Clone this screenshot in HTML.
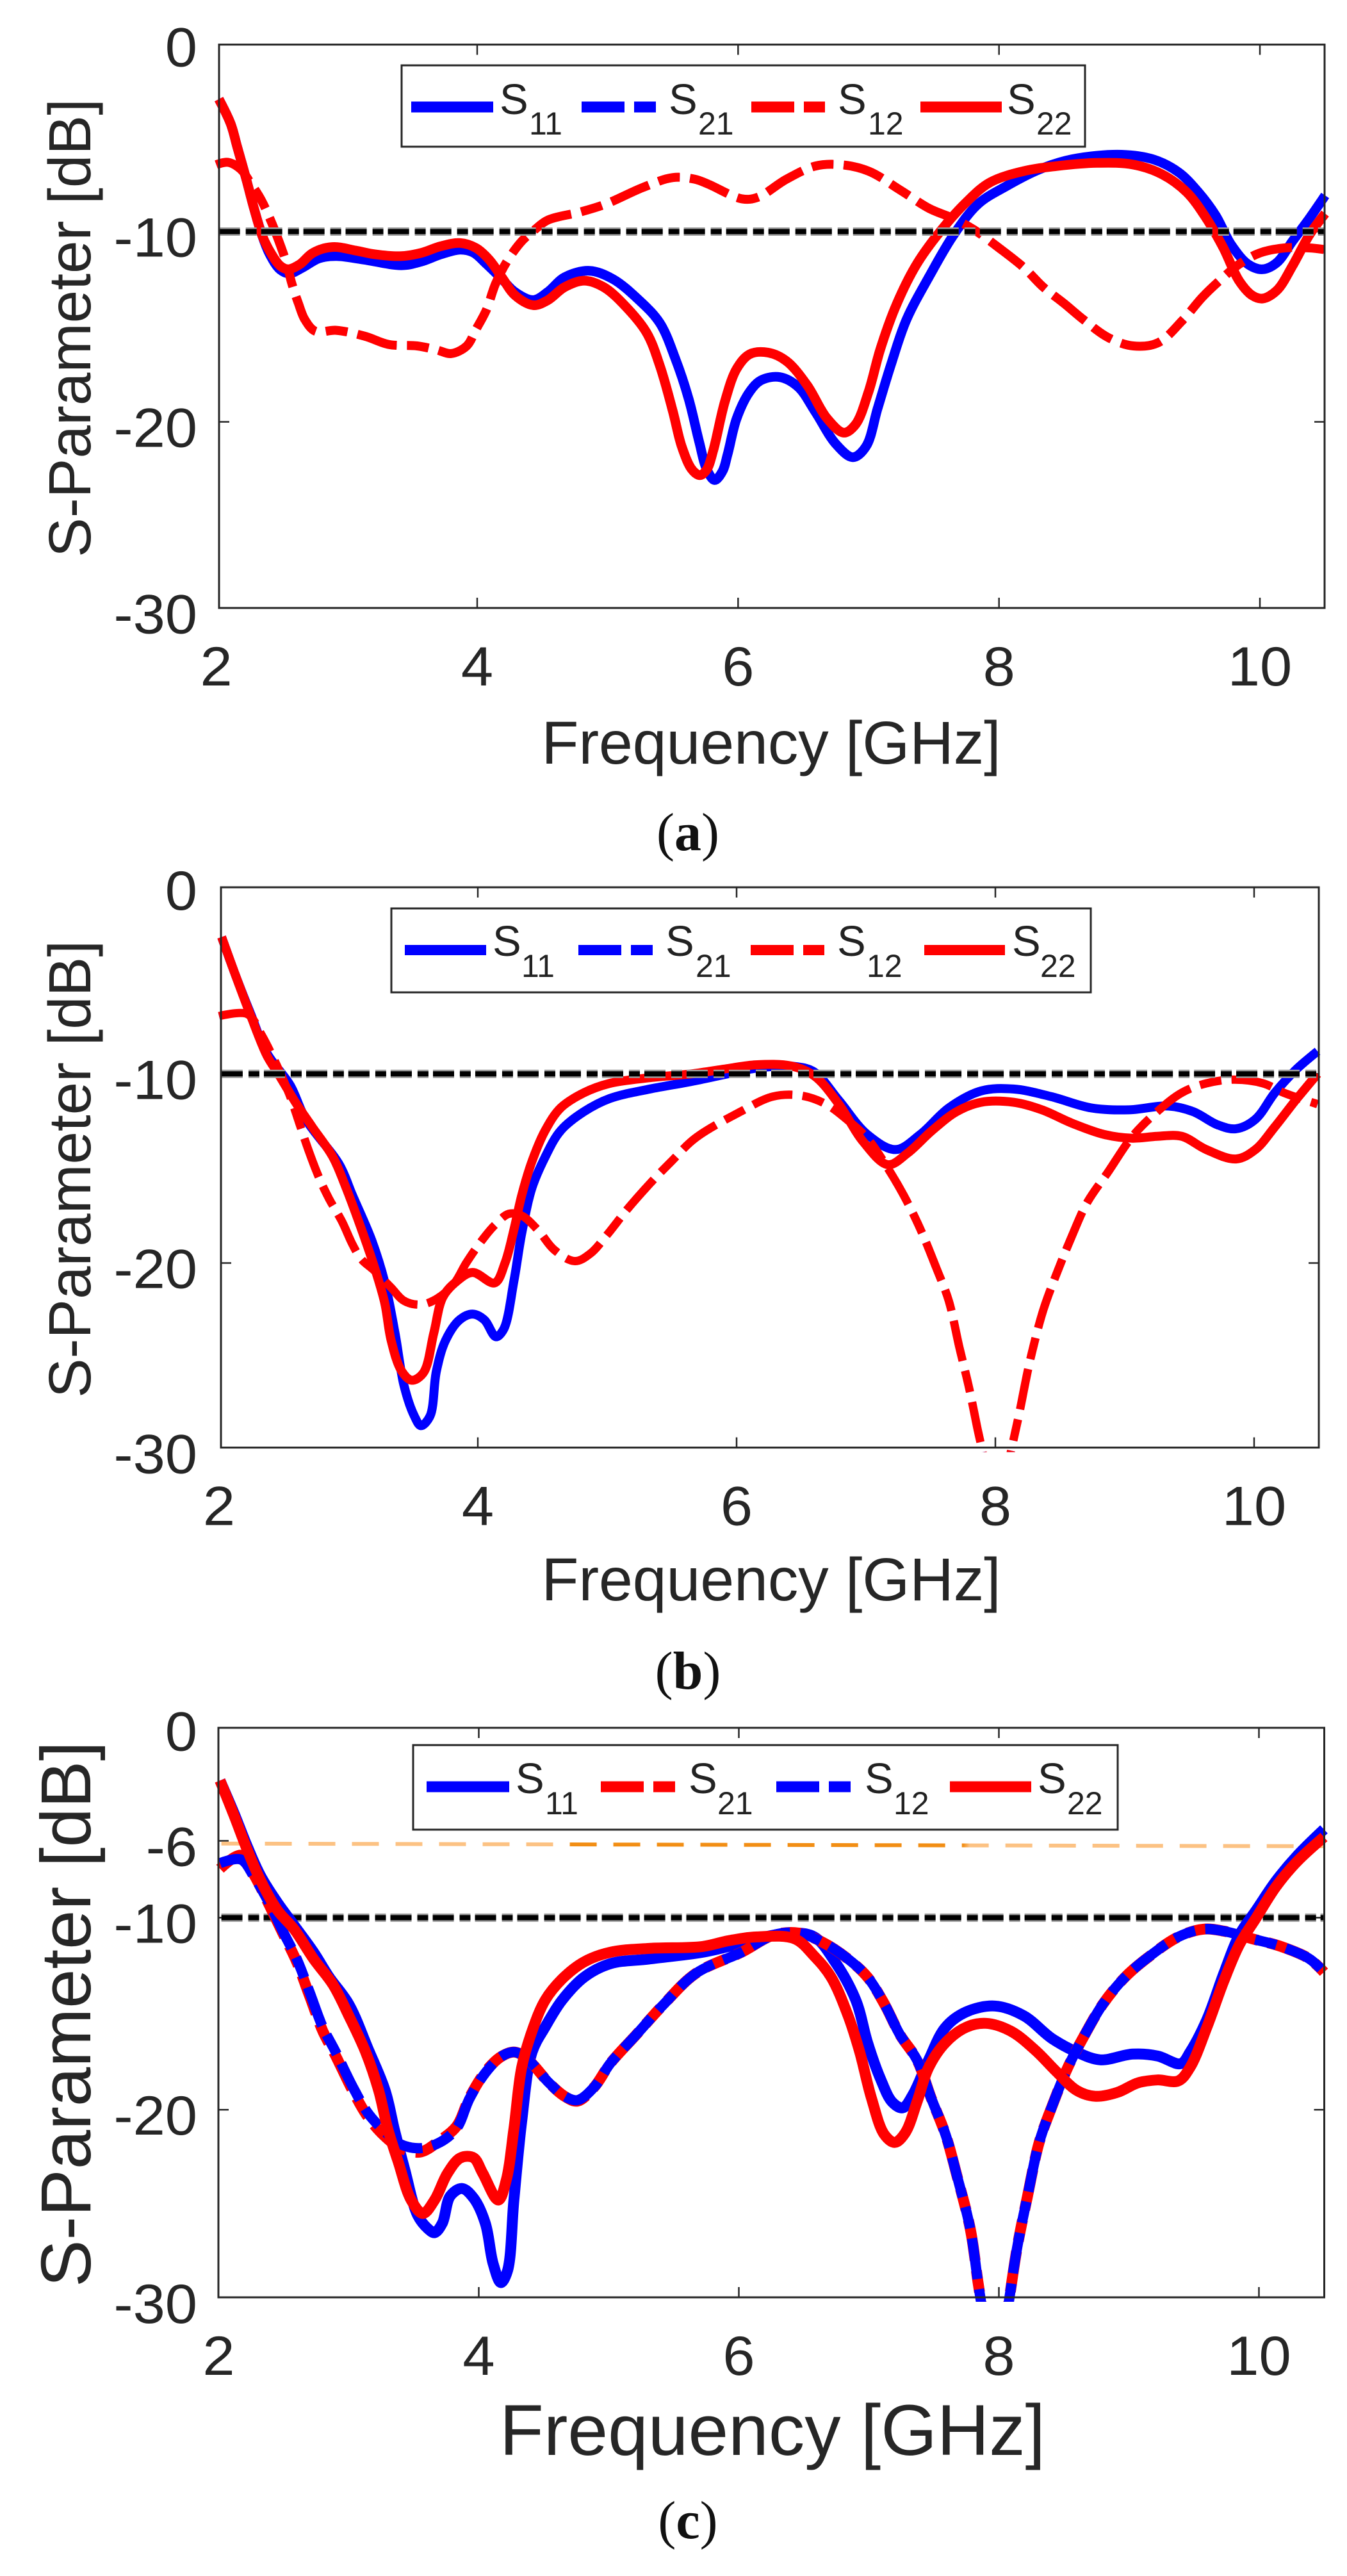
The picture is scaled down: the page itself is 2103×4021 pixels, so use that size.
<!DOCTYPE html>
<html lang="en">
<head>
<meta charset="utf-8">
<title>S-Parameter charts</title>
<style>
html,body{margin:0;padding:0;background:#fff;}
svg{display:block;}
text{font-family:"Liberation Sans",sans-serif;fill:#262626;}
.cap{font-family:"Liberation Serif",serif;font-size:84px;fill:#111;}
.leg{font-size:67px;fill:#222;}
.sub{font-size:50px;fill:#222;}
</style>
</head>
<body>
<svg id="figure" xmlns="http://www.w3.org/2000/svg" width="2103" height="4021" viewBox="0 0 2103 4021">
<rect width="2103" height="4021" fill="#fff"/>
<g id="plots"></g>

<g>
<text x="1204" y="1192" font-size="95" text-anchor="middle" textLength="717" lengthAdjust="spacingAndGlyphs">Frequency [GHz]</text>
<text transform="translate(141,512) rotate(-90)" font-size="93" text-anchor="middle" textLength="716" lengthAdjust="spacingAndGlyphs">S-Parameter [dB]</text>
<text class="cap" x="1074" y="1327" text-anchor="middle">(<tspan font-weight="bold">a</tspan>)</text>
</g>
<g>
<rect x="627" y="102" width="1067" height="127" fill="#fff" stroke="#262626" stroke-width="3"/>
<line x1="642" x2="770" y1="167" y2="167" stroke="#0000ff" stroke-width="17"/>
<text class="leg" x="780" y="178">S</text><text class="sub" x="826" y="210">11</text>
<line x1="908" x2="1024" y1="167" y2="167" stroke="#0000ff" stroke-width="17" stroke-dasharray="67 15 34 100"/>
<text class="leg" x="1044" y="178">S</text><text class="sub" x="1090" y="210">21</text>
<line x1="1173" x2="1288" y1="167" y2="167" stroke="#ff0000" stroke-width="17" stroke-dasharray="67 15 34 100"/>
<text class="leg" x="1308" y="178">S</text><text class="sub" x="1355" y="210">12</text>
<line x1="1437" x2="1564" y1="167" y2="167" stroke="#ff0000" stroke-width="17"/>
<text class="leg" x="1572" y="178">S</text><text class="sub" x="1618" y="210">22</text>
</g>

<g>
<text x="1204" y="2498" font-size="95" text-anchor="middle" textLength="717" lengthAdjust="spacingAndGlyphs">Frequency [GHz]</text>
<text transform="translate(141,1825) rotate(-90)" font-size="93" text-anchor="middle" textLength="714" lengthAdjust="spacingAndGlyphs">S-Parameter [dB]</text>
<text class="cap" x="1074" y="2636" text-anchor="middle">(<tspan font-weight="bold">b</tspan>)</text>
</g>
<g>
<rect x="611" y="1418" width="1092" height="131" fill="#fff" stroke="#262626" stroke-width="3"/>
<line x1="632" x2="759" y1="1483" y2="1483" stroke="#0000ff" stroke-width="16"/>
<text class="leg" x="769" y="1492">S</text><text class="sub" x="814" y="1525">11</text>
<line x1="903" x2="1019" y1="1483" y2="1483" stroke="#0000ff" stroke-width="16" stroke-dasharray="67 15 34 100"/>
<text class="leg" x="1039" y="1492">S</text><text class="sub" x="1086" y="1525">21</text>
<line x1="1172" x2="1287" y1="1483" y2="1483" stroke="#ff0000" stroke-width="16" stroke-dasharray="67 15 34 100"/>
<text class="leg" x="1307" y="1492">S</text><text class="sub" x="1353" y="1525">12</text>
<line x1="1443" x2="1569" y1="1483" y2="1483" stroke="#ff0000" stroke-width="16"/>
<text class="leg" x="1580" y="1492">S</text><text class="sub" x="1624" y="1525">22</text>
</g>

<g>
<text x="1206" y="3832" font-size="112" text-anchor="middle" textLength="852" lengthAdjust="spacingAndGlyphs">Frequency [GHz]</text>
<text transform="translate(141,3144) rotate(-90)" font-size="110" text-anchor="middle" textLength="852" lengthAdjust="spacingAndGlyphs">S-Parameter [dB]</text>
<text class="cap" x="1074" y="3962" text-anchor="middle">(<tspan font-weight="bold">c</tspan>)</text>
</g>
<g>
<rect x="645" y="2724" width="1100" height="132" fill="#fff" stroke="#262626" stroke-width="3"/>
<line x1="666" x2="795" y1="2789" y2="2789" stroke="#0000ff" stroke-width="17"/>
<text class="leg" x="805" y="2799">S</text><text class="sub" x="851" y="2832">11</text>
<line x1="938" x2="1054" y1="2789" y2="2789" stroke="#ff0000" stroke-width="17" stroke-dasharray="67 15 34 100"/>
<text class="leg" x="1075" y="2799">S</text><text class="sub" x="1120" y="2832">21</text>
<line x1="1212" x2="1328" y1="2789" y2="2789" stroke="#0000ff" stroke-width="17" stroke-dasharray="67 15 34 100"/>
<text class="leg" x="1350" y="2799">S</text><text class="sub" x="1395" y="2832">12</text>
<line x1="1483" x2="1610" y1="2789" y2="2789" stroke="#ff0000" stroke-width="17"/>
<text class="leg" x="1620" y="2799">S</text><text class="sub" x="1666" y="2832">22</text>
</g>
</svg>

<script>
/* ---------- shared axis data ---------- */
const xTicks = [2, 4, 6, 8, 10];
const xTickLabels = ['2', '4', '6', '8', '10'];
const yTicksAB = [0, -10, -20, -30];
const yTickLabelsAB = ['0', '-10', '-20', '-30'];
const yTicksC = [0, -6, -10, -20, -30];
const yTickLabelsC = ['0', '-6', '-10', '-20', '-30'];
const refFreq = [2.02, 10.5];
const refDb = [-10, -10];
const orangeFreq = [2.02, 10.5];
const orangeDb = [-6.14, -6.28];

/* ---------- panel (a) ---------- */
const aS11F = [2.02,2.11,2.16,2.23,2.29,2.35,2.41,2.49,2.56,2.66,2.79,2.92,3.12,3.42,3.57,3.72,3.87,3.97,4.07,4.19,4.29,4.43,4.54,4.67,4.86,5.04,5.24,5.4,5.52,5.62,5.7,5.76,5.82,5.88,5.92,5.99,6.09,6.18,6.32,6.46,6.59,6.75,6.88,6.98,7.07,7.17,7.29,7.47,7.65,7.84,8.06,8.31,8.56,8.94,9.19,9.38,9.53,9.66,9.78,9.91,10.02,10.13,10.25,10.38,10.5];
const aS11Db = [-3.04,-4.33,-5.53,-7.25,-8.8,-10.17,-11.2,-12,-12.2,-11.9,-11.4,-11.29,-11.46,-11.77,-11.58,-11.2,-10.95,-11.1,-11.7,-12.5,-13.18,-13.6,-13.18,-12.4,-12.06,-12.49,-13.6,-14.8,-16.7,-18.76,-21,-22.5,-23.06,-22.6,-21.7,-19.8,-18.4,-17.8,-17.65,-18.16,-19.45,-21.17,-21.86,-21.3,-19.28,-17.04,-14.64,-12.3,-10.2,-8.55,-7.6,-6.73,-6.2,-5.96,-6.22,-6.9,-7.94,-9.14,-10.69,-11.72,-11.98,-11.63,-10.5,-9.3,-8.1];
const aS22F = [2.02,2.11,2.16,2.23,2.29,2.35,2.41,2.49,2.55,2.64,2.74,2.89,3.07,3.22,3.42,3.57,3.72,3.87,3.99,4.09,4.19,4.29,4.43,4.54,4.67,4.82,4.97,5.14,5.3,5.4,5.5,5.57,5.65,5.71,5.76,5.81,5.9,5.99,6.09,6.23,6.37,6.53,6.68,6.81,6.9,7,7.09,7.21,7.37,7.56,7.75,7.93,8.19,8.44,8.75,9.03,9.25,9.44,9.59,9.72,9.84,9.94,10.02,10.13,10.25,10.38,10.5];
const aS22Db = [-3.04,-4.33,-5.53,-7.25,-8.8,-10.17,-11.03,-11.8,-11.98,-11.72,-11.12,-10.81,-11,-11.2,-11.29,-11.12,-10.77,-10.6,-10.86,-11.46,-12.41,-13.35,-13.87,-13.61,-12.92,-12.58,-12.92,-13.95,-15.33,-17.04,-19.45,-21.34,-22.54,-22.8,-22.5,-21.5,-18.9,-17.2,-16.44,-16.36,-16.8,-18.08,-19.8,-20.57,-20.14,-18.42,-16.19,-13.9,-11.7,-9.9,-8.45,-7.42,-6.82,-6.56,-6.39,-6.48,-6.99,-7.94,-9.31,-10.86,-12.58,-13.35,-13.52,-13.09,-11.8,-10.17,-9.05];
const aS12F = [2.0,2.09,2.19,2.26,2.34,2.41,2.48,2.54,2.58,2.63,2.68,2.76,2.92,3.14,3.32,3.54,3.69,3.8,3.92,3.99,4.07,4.14,4.23,4.34,4.44,4.54,4.79,4.99,5.27,5.5,5.67,5.77,6.03,6.15,6.37,6.59,6.78,7,7.25,7.47,7.65,7.81,8,8.19,8.34,8.5,8.65,8.84,9.03,9.22,9.41,9.56,9.72,9.84,10,10.19,10.38,10.5];
const aS12Db = [-6.48,-6.36,-6.74,-7.42,-8.28,-9.3,-10.5,-11.7,-12.75,-13.78,-14.64,-15.24,-15.19,-15.5,-15.93,-16.01,-16.22,-16.41,-16.01,-15.15,-14.12,-12.75,-11.55,-10.52,-9.91,-9.4,-8.97,-8.54,-7.68,-7.16,-7.25,-7.5,-8.28,-8.2,-7.25,-6.56,-6.48,-6.82,-7.85,-8.8,-9.31,-9.91,-10.86,-11.89,-12.92,-13.78,-14.64,-15.58,-16.01,-15.84,-14.64,-13.44,-12.4,-11.72,-11.12,-10.86,-10.86,-10.95];
const aS21F = [2.0,2.09,2.19,2.26,2.34,2.41,2.48,2.54,2.58,2.63,2.68,2.76,2.92,3.14,3.32,3.54,3.69,3.8,3.92,3.99,4.07,4.14,4.23,4.34,4.44,4.54,4.79,4.99,5.27,5.5,5.67,5.77,6.03,6.15,6.37,6.59,6.78,7,7.25,7.47,7.65,7.81,8,8.19,8.34,8.5,8.65,8.84,9.03,9.22,9.41,9.56,9.72,9.84,10,10.19,10.38,10.5];
const aS21Db = [-6.48,-6.36,-6.74,-7.42,-8.28,-9.3,-10.5,-11.7,-12.75,-13.78,-14.64,-15.24,-15.19,-15.5,-15.93,-16.01,-16.22,-16.41,-16.01,-15.15,-14.12,-12.75,-11.55,-10.52,-9.91,-9.4,-8.97,-8.54,-7.68,-7.16,-7.25,-7.5,-8.28,-8.2,-7.25,-6.56,-6.48,-6.82,-7.85,-8.8,-9.31,-9.91,-10.86,-11.89,-12.92,-13.78,-14.64,-15.58,-16.01,-15.84,-14.64,-13.44,-12.4,-11.72,-11.12,-10.86,-10.86,-10.95];

/* ---------- panel (b) ---------- */
const bS11F = [2.02,2.12,2.24,2.37,2.55,2.67,2.93,3.03,3.18,3.28,3.36,3.43,3.51,3.56,3.63,3.68,3.75,3.86,3.96,4.05,4.14,4.2,4.28,4.34,4.42,4.52,4.64,4.82,5.02,5.33,5.65,5.93,6.15,6.44,6.6,6.79,7.01,7.23,7.42,7.64,7.89,8.14,8.43,8.74,9.03,9.34,9.53,9.72,9.86,10.01,10.16,10.32,10.49];
const bS11Db = [-2.76,-4.65,-6.75,-8.9,-10.6,-12.4,-14.8,-16.4,-18.8,-21,-23.7,-26.5,-28.1,-28.6,-28.1,-25.7,-24.1,-23,-22.7,-23,-23.9,-23.5,-20.9,-18.4,-16,-14.4,-13,-12,-11.3,-10.8,-10.4,-10,-9.7,-9.6,-9.9,-11.4,-13.2,-14,-13.2,-11.8,-10.9,-10.8,-11.2,-11.8,-11.9,-11.7,-12,-12.7,-12.9,-12.4,-11,-9.8,-8.8];
const bS22F = [2.02,2.12,2.24,2.37,2.46,2.6,2.72,2.88,2.98,3.1,3.2,3.28,3.33,3.41,3.49,3.58,3.66,3.73,3.84,3.96,4.13,4.21,4.28,4.34,4.42,4.52,4.64,4.82,5.02,5.33,5.65,5.93,6.15,6.42,6.6,6.79,6.98,7.17,7.32,7.51,7.7,7.89,8.14,8.36,8.59,8.84,9.06,9.25,9.44,9.63,9.86,10.01,10.16,10.32,10.49];
const bS22Db = [-2.76,-4.65,-6.84,-9.03,-10.02,-11.6,-12.8,-14.4,-16,-18.2,-20.2,-22.1,-24.1,-25.7,-26.2,-25.8,-23.7,-21.8,-20.95,-20.5,-21.05,-20,-18.2,-16.4,-14.6,-13,-11.8,-11,-10.5,-10.2,-10,-9.72,-9.52,-9.58,-10.1,-11.6,-13.6,-14.8,-14.2,-13,-12,-11.5,-11.5,-11.9,-12.6,-13.2,-13.4,-13.3,-13.3,-14,-14.5,-14,-12.8,-11.4,-10];
const bS12F = [2.0,2.22,2.32,2.45,2.55,2.62,2.7,2.78,2.85,2.95,3.03,3.1,3.2,3.33,3.43,3.56,3.68,3.81,3.91,4.01,4.13,4.24,4.34,4.47,4.59,4.75,4.87,5,5.15,5.33,5.5,5.68,6.03,6.28,6.5,6.69,6.85,7.01,7.17,7.29,7.42,7.54,7.64,7.72,7.8,7.86,7.91,8.0,8.11,8.18,8.27,8.37,8.46,8.59,8.71,8.87,9.06,9.25,9.44,9.63,9.85,10.07,10.23,10.49];
const bS12Db = [-6.94,-6.84,-7.83,-9.6,-11.2,-12.6,-14.2,-15.6,-16.6,-17.8,-19,-19.8,-20.4,-21.3,-22,-22.2,-21.9,-21.15,-20,-19,-18,-17.4,-17.5,-18.3,-19.3,-19.9,-19.5,-18.5,-17.2,-15.8,-14.6,-13.4,-12,-11.2,-11.15,-11.6,-12.4,-13.4,-15,-16.4,-18.2,-20.2,-22,-24.4,-26.7,-28.7,-30.3,-34,-30.3,-28.1,-25.1,-22.5,-20.8,-18.6,-16.8,-15.2,-13.3,-12,-11,-10.5,-10.3,-10.5,-11,-11.6];
const bS21F = [2.0,2.22,2.32,2.45,2.55,2.62,2.7,2.78,2.85,2.95,3.03,3.1,3.2,3.33,3.43,3.56,3.68,3.81,3.91,4.01,4.13,4.24,4.34,4.47,4.59,4.75,4.87,5,5.15,5.33,5.5,5.68,6.03,6.28,6.5,6.69,6.85,7.01,7.17,7.29,7.42,7.54,7.64,7.72,7.8,7.86,7.91,8.0,8.11,8.18,8.27,8.37,8.46,8.59,8.71,8.87,9.06,9.25,9.44,9.63,9.85,10.07,10.23,10.49];
const bS21Db = [-6.94,-6.84,-7.83,-9.6,-11.2,-12.6,-14.2,-15.6,-16.6,-17.8,-19,-19.8,-20.4,-21.3,-22,-22.2,-21.9,-21.15,-20,-19,-18,-17.4,-17.5,-18.3,-19.3,-19.9,-19.5,-18.5,-17.2,-15.8,-14.6,-13.4,-12,-11.2,-11.15,-11.6,-12.4,-13.4,-15,-16.4,-18.2,-20.2,-22,-24.4,-26.7,-28.7,-30.3,-34,-30.3,-28.1,-25.1,-22.5,-20.8,-18.6,-16.8,-15.2,-13.3,-12,-11,-10.5,-10.3,-10.5,-11,-11.6];

/* ---------- panel (c) ---------- */
const cS11F = [2.01,2.12,2.22,2.32,2.45,2.58,2.73,2.85,3,3.15,3.28,3.35,3.43,3.53,3.61,3.66,3.72,3.78,3.87,3.96,4.05,4.11,4.17,4.22,4.27,4.33,4.41,4.51,4.64,4.81,5.01,5.31,5.72,5.92,6.14,6.4,6.58,6.74,6.9,6.99,7.09,7.18,7.26,7.34,7.46,7.59,7.75,7.97,8.19,8.41,8.6,8.78,9.03,9.22,9.4,9.47,9.6,9.73,9.85,9.98,10.13,10.29,10.5];
const cS11Db = [-2.86,-4.6,-6.3,-7.8,-9.2,-10.4,-11.8,-13.1,-14.5,-16.85,-19,-21,-23.1,-25.5,-26.2,-26.4,-25.9,-24.5,-24.1,-24.6,-25.9,-28,-29,-28.4,-24.7,-20.6,-17,-15.7,-14.3,-13.1,-12.4,-12.15,-11.8,-11.5,-11.1,-10.8,-11,-12.3,-14.3,-16.5,-18.4,-19.6,-19.9,-19.2,-17.4,-15.7,-14.9,-14.6,-15.1,-16.3,-17,-17.4,-17.1,-17.2,-17.6,-17,-15.3,-12.9,-10.9,-9.6,-8.1,-6.8,-5.4];
const cS22F = [2.01,2.12,2.22,2.32,2.45,2.58,2.73,2.88,3,3.13,3.23,3.3,3.38,3.48,3.57,3.66,3.76,3.86,3.96,4.03,4.15,4.21,4.27,4.33,4.41,4.51,4.64,4.81,5.01,5.31,5.72,5.92,6.14,6.43,6.58,6.71,6.84,6.93,7.02,7.12,7.2,7.28,7.37,7.46,7.59,7.75,7.9,8.09,8.28,8.44,8.6,8.74,8.91,9.07,9.22,9.38,9.47,9.6,9.73,9.85,9.98,10.13,10.29,10.5];
const cS22Db = [-2.86,-4.72,-6.48,-8.04,-9.6,-10.6,-12.15,-13.5,-15.1,-17,-19,-21,-22.7,-24.7,-25.4,-24.7,-23.3,-22.5,-22.5,-23.3,-24.7,-23.7,-21,-17.8,-15.9,-14.3,-13.2,-12.3,-11.8,-11.6,-11.5,-11.2,-11,-11.1,-12,-13.1,-15.1,-17,-19.4,-21.3,-21.7,-21.2,-19.6,-17.8,-16.5,-15.7,-15.5,-15.9,-16.9,-18,-19,-19.3,-19.1,-18.6,-18.45,-18.5,-17.8,-15.7,-13.3,-11.4,-10,-8.4,-7.1,-5.8];
const cS12F = [2.01,2.17,2.27,2.4,2.5,2.6,2.7,2.8,2.9,3.03,3.15,3.28,3.4,3.55,3.7,3.83,3.93,4.06,4.18,4.28,4.38,4.54,4.66,4.76,4.89,5.01,5.21,5.41,5.67,6.02,6.27,6.46,6.65,6.84,6.99,7.12,7.24,7.37,7.48,7.59,7.68,7.78,7.84,7.88,7.97,8.06,8.14,8.22,8.31,8.41,8.53,8.66,8.8,8.97,9.16,9.38,9.57,9.73,9.95,10.17,10.39,10.5];
const cS12Db = [-7.16,-6.97,-7.85,-9.4,-10.8,-12.15,-13.9,-15.7,-17,-18.8,-20.2,-21.15,-21.8,-22,-21.7,-20.96,-19.4,-18,-17.2,-17,-17.4,-18.6,-19.3,-19.5,-18.8,-17.6,-16.1,-14.6,-12.9,-11.8,-10.9,-10.8,-11.3,-12.15,-13.1,-14.5,-16.1,-17.4,-19.4,-21.3,-23.5,-26.2,-29,-30.7,-34,-30.7,-27.2,-24.5,-21.7,-19.8,-17.8,-16.1,-14.5,-13.1,-12,-11,-10.6,-10.7,-11.1,-11.5,-12.15,-12.84];
const cS21F = [2.01,2.17,2.27,2.4,2.5,2.6,2.7,2.8,2.9,3.03,3.15,3.28,3.4,3.55,3.7,3.83,3.93,4.06,4.18,4.28,4.38,4.54,4.66,4.76,4.89,5.01,5.21,5.41,5.67,6.02,6.27,6.46,6.65,6.84,6.99,7.12,7.24,7.37,7.48,7.59,7.68,7.78,7.84,7.88,7.97,8.06,8.14,8.22,8.31,8.41,8.53,8.66,8.8,8.97,9.16,9.38,9.57,9.73,9.95,10.17,10.39,10.5];
const cS21Db = [-7.45,-6.75,-7.75,-9.5,-10.9,-12.3,-14.1,-15.9,-17.2,-19,-20.4,-21.4,-22,-22.2,-21.6,-20.85,-19.35,-17.95,-17.2,-17,-17.4,-18.6,-19.3,-19.55,-18.8,-17.6,-16.1,-14.6,-12.9,-11.8,-10.9,-10.8,-11.3,-12.15,-13.1,-14.5,-16.1,-17.4,-19.4,-21.3,-23.5,-26.2,-29,-30.7,-34,-30.7,-27.2,-24.5,-21.7,-19.8,-17.8,-16.1,-14.5,-13.1,-12,-11,-10.6,-10.7,-11.1,-11.5,-12.15,-12.84];

/* ---------- rendering ---------- */
const NS = 'http://www.w3.org/2000/svg';
const BLUE = '#0000ff', RED = '#ff0000', INK = '#262626';
const DASH = '64 16 34 16';
const root = document.getElementById('plots');
const defs = document.createElementNS(NS, 'defs');


root.appendChild(defs);

function makeXScale(p) { return function (f) { return p.x4 + (f - 4) * p.kx; }; }
function makeYScale(p) { return function (v) { return p.y10 + (-10 - v) * p.ky; }; }

/* centripetal Catmull-Rom spline through the mapped data points */
function smoothPath(fs, vs, xs, ys) {
  const pts = fs.map(function (f, i) { return [xs(f), ys(vs[i])]; });
  const dist = function (a, b) { return Math.hypot(a[0] - b[0], a[1] - b[1]); };
  let d = 'M' + pts[0][0].toFixed(1) + ' ' + pts[0][1].toFixed(1);
  for (let i = 0; i < pts.length - 1; i++) {
    const p0 = pts[Math.max(i - 1, 0)], p1 = pts[i], p2 = pts[i + 1], p3 = pts[Math.min(i + 2, pts.length - 1)];
    const d1 = dist(p0, p1), d2 = dist(p1, p2), d3 = dist(p2, p3);
    const s1 = Math.sqrt(d1), s2 = Math.sqrt(d2), s3 = Math.sqrt(d3);
    let c1 = p1, c2 = p2;
    if (d1 > 0) {
      const den = 3 * s1 * (s1 + s2), k = 2 * d1 + 3 * s1 * s2 + d2;
      c1 = [(d1 * p2[0] - d2 * p0[0] + k * p1[0]) / den, (d1 * p2[1] - d2 * p0[1] + k * p1[1]) / den];
    }
    if (d3 > 0) {
      const den = 3 * s3 * (s3 + s2), k = 2 * d3 + 3 * s3 * s2 + d2;
      c2 = [(d3 * p1[0] - d2 * p3[0] + k * p2[0]) / den, (d3 * p1[1] - d2 * p3[1] + k * p2[1]) / den];
    }
    d += 'C' + c1[0].toFixed(1) + ' ' + c1[1].toFixed(1) + ' ' + c2[0].toFixed(1) + ' ' + c2[1].toFixed(1) + ' ' + p2[0].toFixed(1) + ' ' + p2[1].toFixed(1);
  }
  return d;
}

function addCurve(parent, s, xs, ys) {
  const path = document.createElementNS(NS, 'path');
  path.setAttribute('d', smoothPath(s.f, s.v, xs, ys));
  path.setAttribute('fill', 'none');
  path.setAttribute('stroke', s.color);
  path.setAttribute('stroke-width', s.width);
  path.setAttribute('stroke-linejoin', 'round');
  if (s.dash) path.setAttribute('stroke-dasharray', s.dash);
  if (s.offset) path.setAttribute('stroke-dashoffset', s.offset);
  
  
  parent.appendChild(path);
}

function addReference(parent, p, xs, ys) {
  const halo = document.createElementNS(NS, 'path');
  halo.setAttribute('d', smoothPath(refFreq, refDb, xs, ys));
  halo.setAttribute('fill', 'none');
  halo.setAttribute('stroke', '#9c9c9c');
  halo.setAttribute('stroke-width', '13');
  halo.setAttribute('stroke-dasharray', '33 9 17 7');
  
  
  parent.appendChild(halo);
  const core = document.createElementNS(NS, 'path');
  core.setAttribute('d', smoothPath(refFreq, refDb, xs, ys));
  core.setAttribute('fill', 'none');
  core.setAttribute('stroke', '#000');
  core.setAttribute('stroke-width', '8');
  core.setAttribute('stroke-dasharray', '33 9 17 7');
  
  
  parent.appendChild(core);
}

function addOrange(parent, xs, ys) {
  const grad = document.createElementNS(NS, 'linearGradient');
  grad.setAttribute('id', 'orange-grad');
  grad.setAttribute('gradientUnits', 'userSpaceOnUse');
  grad.setAttribute('x1', '0');
  grad.setAttribute('x2', '2103');
  grad.setAttribute('y1', '0');
  grad.setAttribute('y2', '0');
  [[0, '#fcc283'], [0.415, '#fcc283'], [0.42, '#f28e14'], [0.715, '#f28e14'], [0.72, '#fcc283'], [1, '#fcc283']].forEach(function (st) {
    const stop = document.createElementNS(NS, 'stop');
    stop.setAttribute('offset', st[0]);
    stop.setAttribute('stop-color', st[1]);
    grad.appendChild(stop);
  });
  defs.appendChild(grad);
  const line = document.createElementNS(NS, 'path');
  line.setAttribute('d', smoothPath(orangeFreq, orangeDb, xs, ys));
  line.setAttribute('fill', 'none');
  line.setAttribute('stroke', 'url(#orange-grad)');
  line.setAttribute('stroke-width', '6');
  line.setAttribute('stroke-dasharray', '42 26');
  
  
  parent.appendChild(line);
}

function drawPanel(p) {
  const xs = makeXScale(p), ys = makeYScale(p);
  const g = document.createElementNS(NS, 'g');
  
  
  root.appendChild(g);

  const clip = document.createElementNS(NS, 'clipPath');
  clip.setAttribute('id', p.id + '-clip');
  const cr = document.createElementNS(NS, 'rect');
  cr.setAttribute('x', p.left - 7);
  cr.setAttribute('y', p.top - 7);
  cr.setAttribute('width', p.right - p.left + 14);
  cr.setAttribute('height', p.bottom - p.top + 14);
  clip.appendChild(cr);
  defs.appendChild(clip);

  /* tick marks + tick labels */
  p.xT.forEach(function (t, i) {
    const px = xs(t);
    if (px > p.left + 4) {
      [[p.top, p.top + 16], [p.bottom, p.bottom - 16]].forEach(function (e) {
        const tick = document.createElementNS(NS, 'line');
        tick.setAttribute('x1', px);
        tick.setAttribute('x2', px);
        tick.setAttribute('y1', e[0]);
        tick.setAttribute('y2', e[1]);
        tick.setAttribute('stroke', INK);
        tick.setAttribute('stroke-width', '2.5');
        
        
        g.appendChild(tick);
      });
    }
    const lab = document.createElementNS(NS, 'text');
    lab.setAttribute('transform', 'translate(' + px + ',' + (p.bottom + 121) + ') scale(1.05,1)');
    lab.setAttribute('font-size', '86');
    lab.setAttribute('text-anchor', 'middle');
    lab.textContent = p.xL[i];
    
    
    g.appendChild(lab);
  });
  p.yT.forEach(function (t, i) {
    const py = ys(t);
    if (py > p.top + 4 && py < p.bottom - 4) {
      [[p.left, p.left + 16], [p.right, p.right - 16]].forEach(function (e) {
        const tick = document.createElementNS(NS, 'line');
        tick.setAttribute('x1', e[0]);
        tick.setAttribute('x2', e[1]);
        tick.setAttribute('y1', py);
        tick.setAttribute('y2', py);
        tick.setAttribute('stroke', INK);
        tick.setAttribute('stroke-width', '2.5');
        
        
        g.appendChild(tick);
      });
    }
    const lab = document.createElementNS(NS, 'text');
    lab.setAttribute('transform', 'translate(308,' + (py + (t <= -30 ? 33 : 39)) + ') scale(1.05,1)');
    lab.setAttribute('font-size', '86');
    lab.setAttribute('text-anchor', 'end');
    lab.textContent = p.yL[i];
    
    
    g.appendChild(lab);
  });

  /* marks */
  const marks = document.createElementNS(NS, 'g');
  marks.setAttribute('clip-path', 'url(#' + p.id + '-clip)');
  
  
  g.appendChild(marks);
  if (p.orange) addOrange(marks, xs, ys);
  if (p.refBelow) addReference(marks, p, xs, ys);
  p.series.forEach(function (s) { addCurve(marks, s, xs, ys); });
  if (!p.refBelow) addReference(marks, p, xs, ys);

  /* frame */
  const frame = document.createElementNS(NS, 'rect');
  frame.setAttribute('x', p.left);
  frame.setAttribute('y', p.top);
  frame.setAttribute('width', p.right - p.left);
  frame.setAttribute('height', p.bottom - p.top);
  frame.setAttribute('fill', 'none');
  frame.setAttribute('stroke', INK);
  frame.setAttribute('stroke-width', '3');
  
  
  g.appendChild(frame);
}

drawPanel({
  id: 'panel-a', x4: 745, kx: 203.67, y10: 361.5, ky: 29.7,
  left: 342, right: 2068, top: 69.6, bottom: 949,
  xT: xTicks, xL: xTickLabels, yT: yTicksAB, yL: yTickLabelsAB,
  series: [
    { name: 'panel-a-s11-curve', f: aS11F, v: aS11Db, color: BLUE, width: 15 },
    { name: 'panel-a-s21-curve', f: aS21F, v: aS21Db, color: BLUE, width: 12, dash: DASH },
    { name: 'panel-a-s12-curve', f: aS12F, v: aS12Db, color: RED, width: 14, dash: DASH },
    { name: 'panel-a-s22-curve', f: aS22F, v: aS22Db, color: RED, width: 15 }
  ]
});
drawPanel({
  id: 'panel-b', x4: 746, kx: 202, y10: 1676.3, ky: 29.52,
  left: 345, right: 2059, top: 1385, bottom: 2259.6,
  xT: xTicks, xL: xTickLabels, yT: yTicksAB, yL: yTickLabelsAB,
  series: [
    { name: 'panel-b-s11-curve', f: bS11F, v: bS11Db, color: BLUE, width: 14 },
    { name: 'panel-b-s21-curve', f: bS21F, v: bS21Db, color: BLUE, width: 11, dash: DASH },
    { name: 'panel-b-s12-curve', f: bS12F, v: bS12Db, color: RED, width: 13, dash: DASH },
    { name: 'panel-b-s22-curve', f: bS22F, v: bS22Db, color: RED, width: 14 }
  ]
});
drawPanel({
  id: 'panel-c', x4: 747.5, kx: 203, y10: 2993.4, ky: 29.98,
  left: 341, right: 2067.5, top: 2697, bottom: 3586, orange: true, refBelow: true,
  xT: xTicks, xL: xTickLabels, yT: yTicksC, yL: yTickLabelsC,
  series: [
    { name: 'panel-c-s11-curve', f: cS11F, v: cS11Db, color: BLUE, width: 17 },
    { name: 'panel-c-s21-curve', f: cS21F, v: cS21Db, color: RED, width: 17, dash: DASH, offset: 9 },
    { name: 'panel-c-s12-curve', f: cS12F, v: cS12Db, color: BLUE, width: 16, dash: DASH },
    { name: 'panel-c-s22-curve', f: cS22F, v: cS22Db, color: RED, width: 17 }
  ]
});
</script>
</body>
</html>
